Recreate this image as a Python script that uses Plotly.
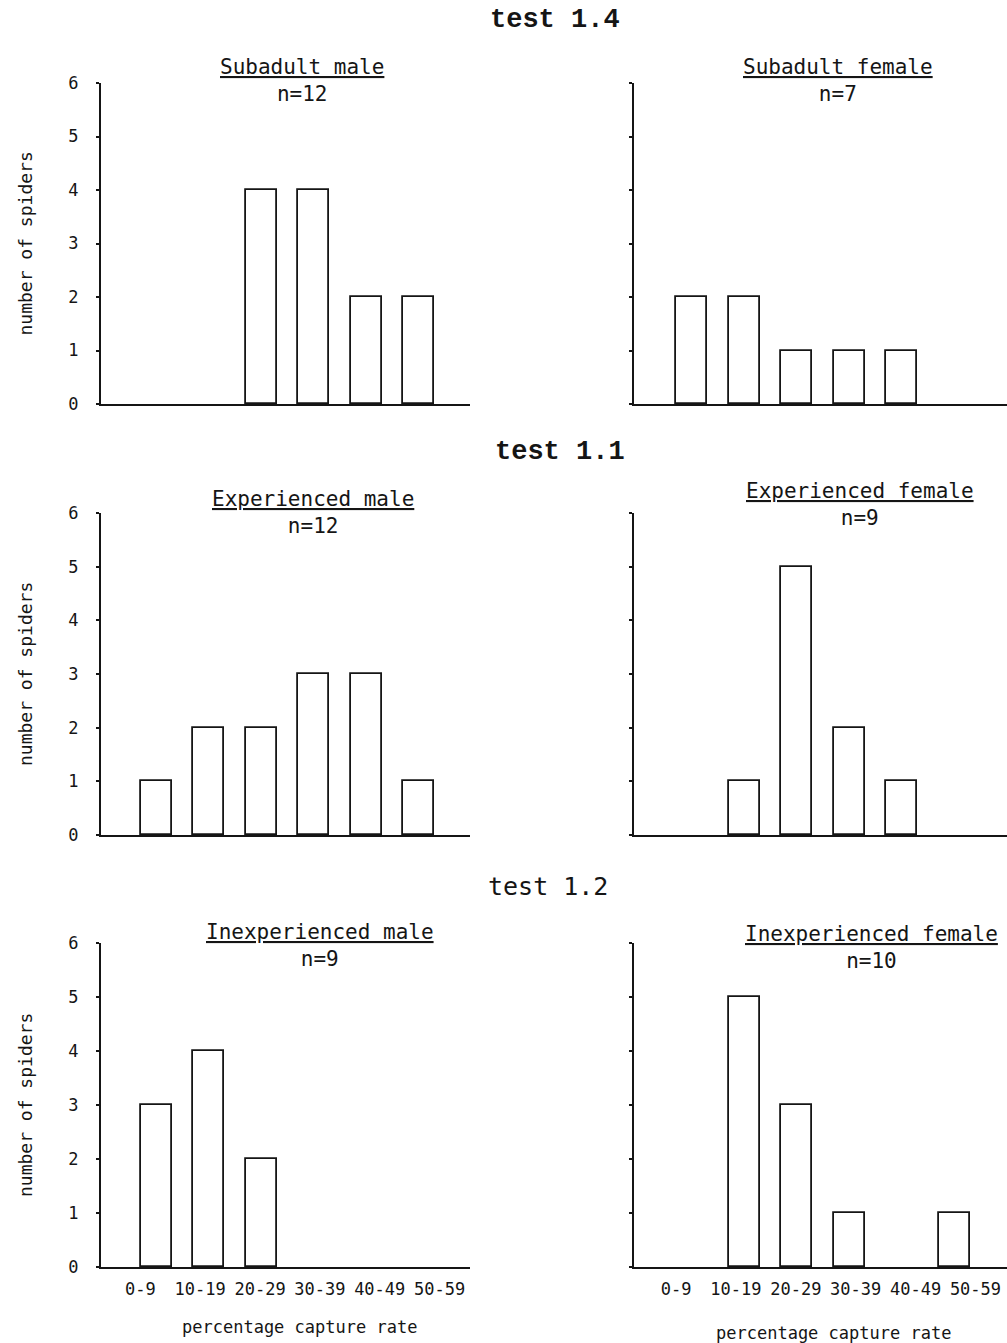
import plotly.graph_objects as go

# Capture-rate classes (percent) and the number of spiders in each class
categories = ["0-9", "10-19", "20-29", "30-39", "40-49", "50-59"]

subadult_male = [0, 0, 4, 4, 2, 2]
subadult_female = [2, 2, 1, 1, 1, 0]
experienced_male = [1, 2, 2, 3, 3, 1]
experienced_female = [0, 1, 5, 2, 1, 0]
inexperienced_male = [3, 4, 2, 0, 0, 0]
inexperienced_female = [0, 5, 3, 1, 0, 1]

group_names = [
    "Subadult male", "Subadult female",
    "Experienced male", "Experienced female",
    "Inexperienced male", "Inexperienced female",
]
sample_sizes = [12, 7, 12, 9, 9, 10]
test_names = ["test 1.4", "test 1.1", "test 1.2"]
y_ticks = [0, 1, 2, 3, 4, 5, 6]

series = [subadult_male, subadult_female,
          experienced_male, experienced_female,
          inexperienced_male, inexperienced_female]

# ---- page geometry (pixels) ----
W, H = 1007, 1343
col_px = [(101, 470), (634, 1007)]
row_px = [(83, 404), (513, 835), (943, 1267)]
x_ranges = [[-0.05, 6.98], [-0.1, 7.0]]

INK = "#151515"
MONO = "DejaVu Sans Mono"


def px_x(v):
    return v / W


def px_y(v):
    return 1 - v / H


fig = go.Figure()
layout = dict(
    width=W, height=H,
    margin=dict(l=0, r=0, t=0, b=0, pad=0, autoexpand=False),
    paper_bgcolor="white", plot_bgcolor="white",
    showlegend=False,
    bargap=0,
)

positions = list(range(1, len(categories) + 1))
# typed class labels drift slightly wider than the bar spacing
label_positions = [0.7 + 1.14 * i for i in range(len(categories))]

annotations = []
for k, values in enumerate(series):
    r, c = divmod(k, 2)
    idx = "" if k == 0 else str(k + 1)
    # empty classes get no outline, leaving only the baseline
    outline = [1.8 if v > 0 else 0 for v in values]
    fig.add_trace(go.Bar(
        x=positions, y=values, width=0.59,
        marker=dict(color="white", line=dict(color=INK, width=outline)),
        xaxis="x" + idx, yaxis="y" + idx,
        hoverinfo="skip",
    ))
    top, bottom = row_px[r]
    left, right = col_px[c]
    bottom_row = r == 2
    layout["xaxis" + idx] = dict(
        domain=[px_x(left), min(1.0, px_x(right))],
        range=x_ranges[c],
        anchor="y" + idx,
        automargin=False,
        showline=True, linecolor=INK, linewidth=2,
        showgrid=False, zeroline=False,
        ticks="",
        tickvals=label_positions if bottom_row else [],
        ticktext=categories if bottom_row else [],
        showticklabels=bottom_row,
        tickfont=dict(family=MONO, size=17, color=INK),
        ticklabelstandoff=6,
        fixedrange=True,
    )
    layout["yaxis" + idx] = dict(
        domain=[px_y(bottom), px_y(top)],
        range=[0, 6],
        anchor="x" + idx,
        automargin=False,
        showline=True, linecolor=INK, linewidth=2,
        showgrid=False, zeroline=False,
        ticks="outside", ticklen=3, tickwidth=2, tickcolor=INK,
        tickvals=y_ticks,
        showticklabels=(c == 0),
        tickfont=dict(family=MONO, size=17, color=INK),
        ticklabelstandoff=14,
        fixedrange=True,
    )

    # group name (underlined) with sample size below
    block_y = [80, 80, 512, 505, 945, 947][k]
    block_x = [302, 838, 313, 860, 320, 871][k]
    annotations.append(dict(
        text="<u>%s</u><br>n=%d" % (group_names[k], sample_sizes[k]),
        x=px_x(block_x), y=px_y(block_y), xref="paper", yref="paper",
        xanchor="center", yanchor="middle", showarrow=False,
        font=dict(family=MONO, size=21, color=INK),
    ))

# test headings
heading_pos = [(555, 20), (560, 452), (548, 886)]
heading_fonts = [
    dict(family="Liberation Mono", size=27, color=INK, weight="bold"),
    dict(family="Liberation Mono", size=27, color=INK, weight="bold"),
    dict(family=MONO, size=25, color=INK),
]
for name, (hx, hy), f in zip(test_names, heading_pos, heading_fonts):
    annotations.append(dict(
        text=name, x=px_x(hx), y=px_y(hy), xref="paper", yref="paper",
        xanchor="center", yanchor="middle", showarrow=False, font=f,
    ))

# y-axis titles for the left column
for r in range(3):
    top, bottom = row_px[r]
    annotations.append(dict(
        text="number of spiders", textangle=-90,
        x=px_x(25), y=px_y((top + bottom) / 2), xref="paper", yref="paper",
        xanchor="center", yanchor="middle", showarrow=False,
        font=dict(family=MONO, size=18, color=INK),
    ))

# x-axis titles under the bottom row
for (tx, ty) in [(299, 1327), (833, 1333)]:
    annotations.append(dict(
        text="percentage capture rate",
        x=px_x(tx), y=px_y(ty), xref="paper", yref="paper",
        xanchor="center", yanchor="middle", showarrow=False,
        font=dict(family=MONO, size=17, color=INK),
    ))

layout["annotations"] = annotations
fig.update_layout(**layout)
fig.write_html("out.html")
